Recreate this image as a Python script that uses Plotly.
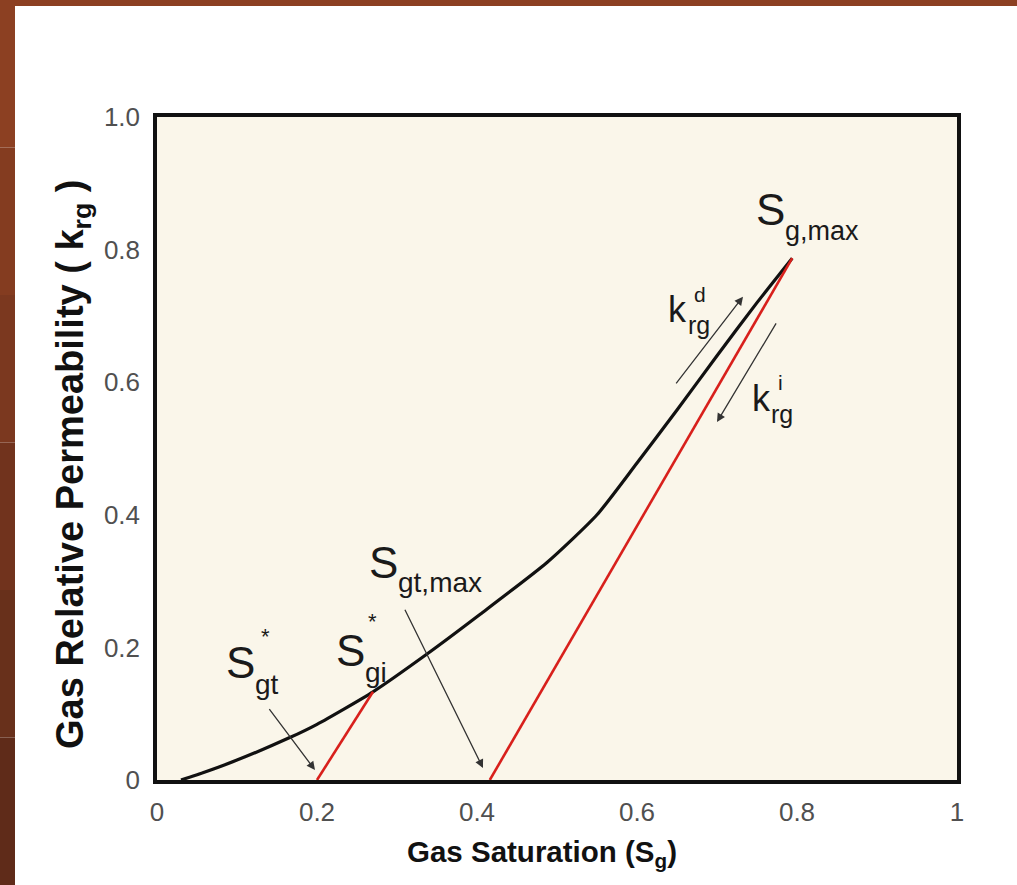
import plotly.graph_objects as go

# ---- data ----
drain_sg = [0.03, 0.06, 0.10, 0.166, 0.20, 0.27, 0.3375, 0.404, 0.4875, 0.55, 0.60, 0.65, 0.70, 0.75, 0.794]
drain_krg = [0.0, 0.012, 0.030, 0.064, 0.084, 0.133, 0.19, 0.25, 0.328, 0.40, 0.478, 0.558, 0.64, 0.72, 0.787]
imb1_sg = [0.20, 0.27]
imb1_krg = [0.0, 0.133]
imb2_sg = [0.416, 0.794]
imb2_krg = [0.0, 0.787]

x_tickvals = [0, 0.2, 0.4, 0.6, 0.8, 1.0]
x_ticktext = ["0", "0.2", "0.4", "0.6", "0.8", "1"]
y_tickvals = [0, 0.2, 0.4, 0.6, 0.8, 1.0]
y_ticktext = ["0", "0.2", "0.4", "0.6", "0.8", "1.0"]

x_title = "Gas Saturation (S<sub>g</sub>)"
y_title = "Gas Relative Permeability ( k<sub>rg</sub> )"

W, H = 1017, 885
L, R, T, B = 157, 60, 117, 105
PW, PH = W - L - R, H - T - B

FONT = "Liberation Sans, Arial, sans-serif"


def px(xp):
    return (xp - L) / PW


def py(yp):
    return (H - B - yp) / PH


fig = go.Figure()
fig.add_trace(go.Scatter(x=drain_sg, y=drain_krg, mode="lines",
                         line=dict(color="#111111", width=3.2, shape="spline", smoothing=0.6),
                         showlegend=False, hoverinfo="skip"))
fig.add_trace(go.Scatter(x=imb1_sg, y=imb1_krg, mode="lines",
                         line=dict(color="#d8201c", width=2.6), showlegend=False, hoverinfo="skip"))
fig.add_trace(go.Scatter(x=imb2_sg, y=imb2_krg, mode="lines",
                         line=dict(color="#d8201c", width=2.6), showlegend=False, hoverinfo="skip"))

shapes = []
# brown slide frame (left strip with gradient and top strip)
cols = ["#8c4022", "#843c20", "#7b381f", "#71331d", "#68301b", "#5f2b19"]
n = len(cols)
for i, c in enumerate(cols):
    y0p = i * H / n
    y1p = (i + 1) * H / n
    shapes.append(dict(type="rect", xref="paper", yref="paper", x0=px(0), x1=px(15),
                       y0=py(y1p), y1=py(y0p), fillcolor=c, line=dict(width=0), layer="below"))
shapes.append(dict(type="rect", xref="paper", yref="paper", x0=px(0), x1=px(W),
                   y0=py(6), y1=py(0), fillcolor="#8c4022", line=dict(width=0), layer="below"))
fig.update_layout(shapes=shapes)

ann = []
arrow_col = "#333333"


def arrow(x, y, ax, ay):
    ann.append(dict(x=x, y=y, ax=ax, ay=ay, xref="x", yref="y", axref="x", ayref="y",
                    showarrow=True, arrowhead=2, arrowsize=1.3, arrowwidth=1.3,
                    arrowcolor=arrow_col, text="", standoff=0, startstandoff=0))


arrow(0.1975, 0.015, 0.139, 0.109)
arrow(0.4075, 0.018, 0.309, 0.259)
arrow(0.7325, 0.729, 0.6475, 0.596)
arrow(0.70, 0.54, 0.775, 0.691)


def txt(s, xp_, yp_, size, anchor="center", color="#1a1a1a", bold=False, angle=0):
    ann.append(dict(text=s, x=px(xp_), y=py(yp_), xref="paper", yref="paper", showarrow=False,
                    xanchor=anchor, yanchor="middle", textangle=angle,
                    font=dict(family=FONT, size=size, color=color,
                              weight="bold" if bold else "normal")))


BIG, STAR = 44, 22
# S_gt*
txt("S", 240, 662, BIG)
txt("gt", 253, 684, 28, "left")
txt("*", 265, 636, STAR)
# S_gi*
txt("S", 350, 650, BIG)
txt("gi", 363, 672, 28, "left")
txt("*", 372, 621, STAR)
# S_gt,max
txt("S", 383, 562, BIG)
txt("gt,max", 396, 582, 28, "left")
# S_g,max
txt("S", 770, 210, BIG)
txt("g,max", 783, 231, 27, "left")
# k_rg^d
txt("k", 677, 309, 36)
txt("d", 692, 294, 21, "left")
txt("rg", 686, 325, 25, "left")
# k_rg^i
txt("k", 761, 398, 36)
txt("i", 776, 382, 21, "left")
txt("rg", 769, 414, 25, "left")

# axis titles
txt(x_title, 542, 853, 29.5, color="#111111", bold=True)
txt(y_title, 73, 465, 38, color="#111111", bold=True, angle=-90)

fig.update_layout(annotations=ann)

fig.update_layout(
    width=W, height=H,
    margin=dict(l=L, r=R, t=T, b=B, pad=0),
    paper_bgcolor="white",
    plot_bgcolor="#faf6ea",
    showlegend=False,
    xaxis=dict(range=[0, 1], tickvals=x_tickvals, ticktext=x_ticktext, showgrid=False, zeroline=False,
               showline=True, mirror=True, linecolor="#111111", linewidth=3.5,
               ticks="outside", ticklen=6, tickcolor="rgba(0,0,0,0)",
               tickfont=dict(family=FONT, size=26, color="#505050")),
    yaxis=dict(range=[0, 1], tickvals=y_tickvals, ticktext=y_ticktext, showgrid=False, zeroline=False,
               showline=True, mirror=True, linecolor="#111111", linewidth=3.5,
               ticks="outside", ticklen=8, tickcolor="rgba(0,0,0,0)",
               tickfont=dict(family=FONT, size=26, color="#505050")),
)

fig.write_html("out.html")
